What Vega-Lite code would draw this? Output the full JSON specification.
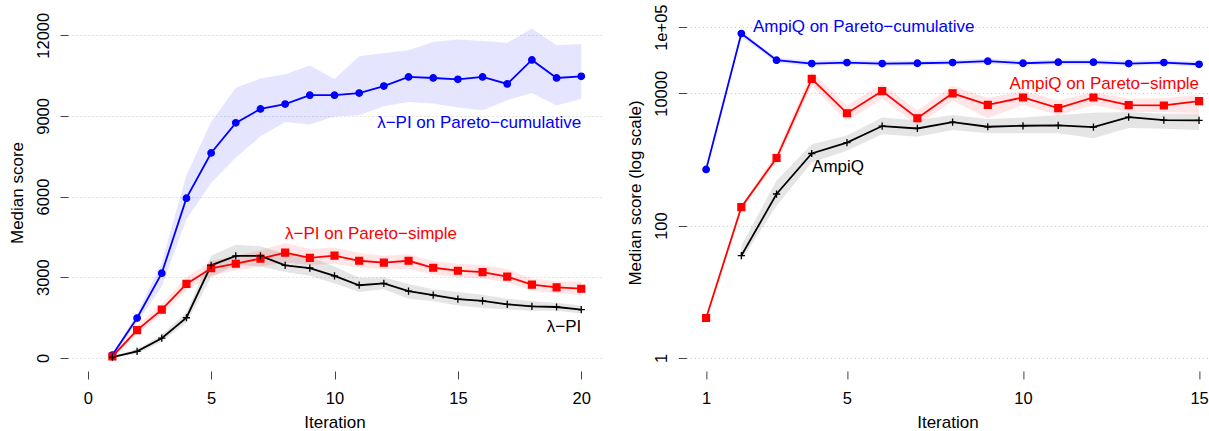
{
  "$schema": "https://vega.github.io/schema/vega-lite/v6.json",
  "padding": {"left": 8, "top": 4, "right": 0, "bottom": 0},
  "autosize": {"type": "pad"},
  "config": {
    "view": {"stroke": null},
    "font": "Liberation Sans",
    "axis": {
      "labelFontSize": 16.5, "titleFontSize": 17, "titleFontWeight": "normal",
      "labelColor": "#000", "titleColor": "#000", "tickColor": "#444", "tickSize": 8,
      "domain": false, "labelFlush": false, "labelOverlap": false,
      "gridDash": [1, 3], "gridColor": "#c8c8c8"
    }
  },
  "datasets": {
    "left": [
      {"x":1,"s":"cum","y":100,"lo":50,"hi":150},
      {"x":2,"s":"cum","y":1480,"lo":1300,"hi":1650},
      {"x":3,"s":"cum","y":3150,"lo":2650,"hi":3550},
      {"x":4,"s":"cum","y":5940,"lo":5150,"hi":6800},
      {"x":5,"s":"cum","y":7620,"lo":6500,"hi":8770},
      {"x":6,"s":"cum","y":8740,"lo":7450,"hi":10050},
      {"x":7,"s":"cum","y":9260,"lo":8240,"hi":10390},
      {"x":8,"s":"cum","y":9440,"lo":8770,"hi":10550},
      {"x":9,"s":"cum","y":9770,"lo":8680,"hi":10870},
      {"x":10,"s":"cum","y":9770,"lo":8980,"hi":10370},
      {"x":11,"s":"cum","y":9850,"lo":9020,"hi":11220},
      {"x":12,"s":"cum","y":10110,"lo":9360,"hi":11340},
      {"x":13,"s":"cum","y":10450,"lo":9520,"hi":11440},
      {"x":14,"s":"cum","y":10410,"lo":9460,"hi":11750},
      {"x":15,"s":"cum","y":10360,"lo":9310,"hi":11840},
      {"x":16,"s":"cum","y":10450,"lo":9210,"hi":11790},
      {"x":17,"s":"cum","y":10190,"lo":9580,"hi":11720},
      {"x":18,"s":"cum","y":11080,"lo":9850,"hi":12250},
      {"x":19,"s":"cum","y":10410,"lo":9390,"hi":11630},
      {"x":20,"s":"cum","y":10470,"lo":9640,"hi":11670},
      {"x":1,"s":"simple","y":50,"lo":0,"hi":100},
      {"x":2,"s":"simple","y":1030,"lo":880,"hi":1200},
      {"x":3,"s":"simple","y":1790,"lo":1600,"hi":2000},
      {"x":4,"s":"simple","y":2750,"lo":2500,"hi":3000},
      {"x":5,"s":"simple","y":3330,"lo":3050,"hi":3600},
      {"x":6,"s":"simple","y":3500,"lo":3250,"hi":3800},
      {"x":7,"s":"simple","y":3690,"lo":3400,"hi":4000},
      {"x":8,"s":"simple","y":3910,"lo":3550,"hi":4270},
      {"x":9,"s":"simple","y":3720,"lo":3450,"hi":4050},
      {"x":10,"s":"simple","y":3800,"lo":3500,"hi":4100},
      {"x":11,"s":"simple","y":3610,"lo":3350,"hi":3900},
      {"x":12,"s":"simple","y":3540,"lo":3300,"hi":3800},
      {"x":13,"s":"simple","y":3610,"lo":3300,"hi":3850},
      {"x":14,"s":"simple","y":3350,"lo":3100,"hi":3600},
      {"x":15,"s":"simple","y":3240,"lo":3000,"hi":3500},
      {"x":16,"s":"simple","y":3190,"lo":2950,"hi":3450},
      {"x":17,"s":"simple","y":3020,"lo":2800,"hi":3300},
      {"x":18,"s":"simple","y":2720,"lo":2500,"hi":2950},
      {"x":19,"s":"simple","y":2620,"lo":2400,"hi":2850},
      {"x":20,"s":"simple","y":2570,"lo":2330,"hi":2820},
      {"x":1,"s":"base","y":25,"lo":0,"hi":60},
      {"x":2,"s":"base","y":240,"lo":150,"hi":330},
      {"x":3,"s":"base","y":730,"lo":600,"hi":850},
      {"x":4,"s":"base","y":1490,"lo":1300,"hi":1700},
      {"x":5,"s":"base","y":3440,"lo":3000,"hi":3800},
      {"x":6,"s":"base","y":3790,"lo":3450,"hi":4210},
      {"x":7,"s":"base","y":3790,"lo":3400,"hi":4150},
      {"x":8,"s":"base","y":3440,"lo":3190,"hi":3870},
      {"x":9,"s":"base","y":3340,"lo":3050,"hi":3750},
      {"x":10,"s":"base","y":3050,"lo":2760,"hi":3400},
      {"x":11,"s":"base","y":2700,"lo":2450,"hi":2980},
      {"x":12,"s":"base","y":2770,"lo":2550,"hi":3000},
      {"x":13,"s":"base","y":2480,"lo":2200,"hi":2750},
      {"x":14,"s":"base","y":2330,"lo":2100,"hi":2550},
      {"x":15,"s":"base","y":2180,"lo":1950,"hi":2450},
      {"x":16,"s":"base","y":2120,"lo":1850,"hi":2350},
      {"x":17,"s":"base","y":1990,"lo":1800,"hi":2200},
      {"x":18,"s":"base","y":1910,"lo":1750,"hi":2100},
      {"x":19,"s":"base","y":1890,"lo":1750,"hi":2050},
      {"x":20,"s":"base","y":1790,"lo":1650,"hi":1950}
    ],
    "right": [
      {"x":1,"s":"cum","y":706,"lo":690,"hi":720},
      {"x":2,"s":"cum","y":80000,"lo":72000,"hi":88000},
      {"x":3,"s":"cum","y":31700,"lo":29000,"hi":34500},
      {"x":4,"s":"cum","y":28200,"lo":26000,"hi":31000},
      {"x":5,"s":"cum","y":29200,"lo":27000,"hi":32000},
      {"x":6,"s":"cum","y":28200,"lo":26000,"hi":31000},
      {"x":7,"s":"cum","y":28500,"lo":26300,"hi":31200},
      {"x":8,"s":"cum","y":29200,"lo":27000,"hi":32000},
      {"x":9,"s":"cum","y":30600,"lo":28000,"hi":33500},
      {"x":10,"s":"cum","y":28500,"lo":26300,"hi":31200},
      {"x":11,"s":"cum","y":29600,"lo":27300,"hi":32500},
      {"x":12,"s":"cum","y":29600,"lo":27300,"hi":32500},
      {"x":13,"s":"cum","y":28200,"lo":26000,"hi":31000},
      {"x":14,"s":"cum","y":29200,"lo":27000,"hi":32000},
      {"x":15,"s":"cum","y":27500,"lo":25300,"hi":30200},
      {"x":1,"s":"simple","y":4.0,"lo":3.8,"hi":4.2},
      {"x":2,"s":"simple","y":190,"lo":175,"hi":205},
      {"x":3,"s":"simple","y":1050,"lo":900,"hi":1250},
      {"x":4,"s":"simple","y":16500,"lo":13000,"hi":21000},
      {"x":5,"s":"simple","y":5000,"lo":3800,"hi":6500},
      {"x":6,"s":"simple","y":10800,"lo":8300,"hi":14000},
      {"x":7,"s":"simple","y":4200,"lo":3300,"hi":5500},
      {"x":8,"s":"simple","y":10000,"lo":7700,"hi":13000},
      {"x":9,"s":"simple","y":6700,"lo":4200,"hi":8500},
      {"x":10,"s":"simple","y":8650,"lo":6700,"hi":11000},
      {"x":11,"s":"simple","y":5970,"lo":4700,"hi":7800},
      {"x":12,"s":"simple","y":8650,"lo":6600,"hi":10500},
      {"x":13,"s":"simple","y":6620,"lo":5200,"hi":8300},
      {"x":14,"s":"simple","y":6550,"lo":5200,"hi":8400},
      {"x":15,"s":"simple","y":7620,"lo":5000,"hi":9500},
      {"x":2,"s":"base","y":35,"lo":29.5,"hi":50},
      {"x":3,"s":"base","y":300,"lo":200,"hi":480},
      {"x":4,"s":"base","y":1230,"lo":900,"hi":1700},
      {"x":5,"s":"base","y":1800,"lo":1350,"hi":2300},
      {"x":6,"s":"base","y":3200,"lo":2400,"hi":4300},
      {"x":7,"s":"base","y":2940,"lo":2200,"hi":3900},
      {"x":8,"s":"base","y":3670,"lo":2800,"hi":4700},
      {"x":9,"s":"base","y":3120,"lo":2500,"hi":4100},
      {"x":10,"s":"base","y":3230,"lo":2500,"hi":4300},
      {"x":11,"s":"base","y":3270,"lo":2500,"hi":4700},
      {"x":12,"s":"base","y":3080,"lo":2100,"hi":5100},
      {"x":13,"s":"base","y":4370,"lo":3000,"hi":5200},
      {"x":14,"s":"base","y":3940,"lo":2900,"hi":4900},
      {"x":15,"s":"base","y":3890,"lo":2800,"hi":4900}
    ]
  },
  "spacing": 85.4,
  "bounds": "flush",
  "resolve": {"scale": {"x": "independent", "y": "independent", "color": "shared", "stroke": "shared", "shape": "shared", "size": "shared"}},
  "hconcat": [
    {
      "width": 533,
      "height": 357,
      "data": {"name": "left"},
      "encoding": {
        "x": {"field": "x", "type": "quantitative",
          "scale": {"domain": [-0.8, 20.8], "nice": false, "zero": false},
          "axis": {"values": [0, 5, 10, 15, 20], "grid": false, "labelPadding": 11, "title": "Iteration", "titlePadding": 8}},
        "y": {"field": "y", "type": "quantitative",
          "scale": {"domain": [-491, 12790], "nice": false, "zero": false},
          "axis": {"values": [0, 3000, 6000, 9000, 12000], "format": "d", "grid": true,
            "labelAngle": 270, "labelAlign": "center", "labelBaseline": "alphabetic", "labelPadding": 12,
            "title": "Median score", "titleX": -45.5, "titleY": 178.5, "titleAngle": 270, "titleAlign": "center", "titleBaseline": "alphabetic"}}
      },
      "layer": [
        {"mark": {"type": "area", "opacity": 0.1},
          "encoding": {"y": {"field": "lo", "type": "quantitative"}, "y2": {"field": "hi"},
            "color": {"field": "s", "type": "nominal", "scale": {"domain": ["cum", "simple", "base"], "range": ["#0000ff", "#ff0000", "#000000"]}, "legend": null}}},
        {"mark": {"type": "line", "strokeWidth": 1.8},
          "encoding": {"color": {"field": "s", "type": "nominal", "legend": null}}},
        {"mark": {"type": "point", "filled": true, "opacity": 1, "strokeWidth": 1.3},
          "encoding": {
            "color": {"field": "s", "type": "nominal", "legend": null},
            "stroke": {"field": "s", "type": "nominal", "scale": {"domain": ["cum", "simple", "base"], "range": ["#0000ff", "#ff0000", "#000000"]}, "legend": null},
            "shape": {"field": "s", "type": "nominal", "scale": {"domain": ["cum", "simple", "base"], "range": ["circle", "square", "M-1,0H1M0,-1V1"]}, "legend": null},
            "size": {"field": "s", "type": "nominal", "scale": {"domain": ["cum", "simple", "base"], "range": [42, 52, 64]}, "legend": null}}},
        {"data": {"values": [{"x": 20, "y": 8728, "t": "λ−PI on Pareto−cumulative", "s": "cum"}, {"x": 20, "y": 1138, "t": "λ−PI", "s": "base"}]},
          "mark": {"type": "text", "align": "right", "baseline": "middle", "fontSize": 17},
          "encoding": {"text": {"field": "t"}, "color": {"field": "s", "type": "nominal", "legend": null}}},
        {"data": {"values": [{"x": 11.48, "y": 4613, "t": "λ−PI on Pareto−simple", "s": "simple"}]},
          "mark": {"type": "text", "align": "center", "baseline": "middle", "fontSize": 17},
          "encoding": {"text": {"field": "t"}, "color": {"field": "s", "type": "nominal", "legend": null}}},
        {"data": {"values": [{"a": 1}]},
          "mark": {"type": "rule", "color": "#444", "strokeWidth": 1},
          "encoding": {"x": {"datum": -0.8, "type": "quantitative"}, "y": {"datum": 0, "type": "quantitative"}, "y2": {"datum": 12000}}},
        {"data": {"values": [{"a": 1}]},
          "mark": {"type": "rule", "color": "#444", "strokeWidth": 1},
          "encoding": {"x": {"datum": 0, "type": "quantitative"}, "x2": {"datum": 20}, "y": {"datum": -491, "type": "quantitative"}}}
      ]
    },
    {
      "width": 522,
      "height": 357,
      "data": {"name": "right"},
      "encoding": {
        "x": {"field": "x", "type": "quantitative",
          "scale": {"domain": [0.44, 15.265], "nice": false, "zero": false},
          "axis": {"values": [1, 5, 10, 15], "grid": false, "labelPadding": 11, "title": "Iteration", "titlePadding": 8}},
        "y": {"field": "y", "type": "quantitative",
          "scale": {"type": "log", "domain": [0.632, 158300], "nice": false},
          "axis": {"values": [1, 100, 10000, 100000], "grid": true,
            "labelExpr": "datum.value >= 100000 ? '1e+05' : format(datum.value, 'd')",
            "labelAngle": 270, "labelAlign": "center", "labelBaseline": "alphabetic", "labelPadding": 12,
            "title": "Median score (log scale)", "titleX": -46, "titleY": 178.5, "titleAngle": 270, "titleAlign": "center", "titleBaseline": "alphabetic"}}
      },
      "layer": [
        {"mark": {"type": "area", "opacity": 0.1},
          "encoding": {"y": {"field": "lo", "type": "quantitative"}, "y2": {"field": "hi"},
            "color": {"field": "s", "type": "nominal", "scale": {"domain": ["cum", "simple", "base"], "range": ["#0000ff", "#ff0000", "#000000"]}, "legend": null}}},
        {"mark": {"type": "line", "strokeWidth": 1.8},
          "encoding": {"color": {"field": "s", "type": "nominal", "legend": null}}},
        {"mark": {"type": "point", "filled": true, "opacity": 1, "strokeWidth": 1.3},
          "encoding": {
            "color": {"field": "s", "type": "nominal", "legend": null},
            "stroke": {"field": "s", "type": "nominal", "scale": {"domain": ["cum", "simple", "base"], "range": ["#0000ff", "#ff0000", "#000000"]}, "legend": null},
            "shape": {"field": "s", "type": "nominal", "scale": {"domain": ["cum", "simple", "base"], "range": ["circle", "square", "M-1,0H1M0,-1V1"]}, "legend": null},
            "size": {"field": "s", "type": "nominal", "scale": {"domain": ["cum", "simple", "base"], "range": [42, 52, 64]}, "legend": null}}},
        {"data": {"values": [{"x": 2.33, "y": 100000, "t": "AmpiQ on Pareto−cumulative", "s": "cum"}, {"x": 4.01, "y": 764, "t": "AmpiQ", "s": "base"}]},
          "mark": {"type": "text", "align": "left", "baseline": "middle", "fontSize": 17},
          "encoding": {"text": {"field": "t"}, "color": {"field": "s", "type": "nominal", "legend": null}}},
        {"data": {"values": [{"x": 15, "y": 13600, "t": "AmpiQ on Pareto−simple", "s": "simple"}]},
          "mark": {"type": "text", "align": "right", "baseline": "middle", "fontSize": 17},
          "encoding": {"text": {"field": "t"}, "color": {"field": "s", "type": "nominal", "legend": null}}},
        {"data": {"values": [{"a": 1}]},
          "mark": {"type": "rule", "color": "#444", "strokeWidth": 1},
          "encoding": {"x": {"datum": 0.44, "type": "quantitative"}, "y": {"datum": 1, "type": "quantitative"}, "y2": {"datum": 100000}}},
        {"data": {"values": [{"a": 1}]},
          "mark": {"type": "rule", "color": "#444", "strokeWidth": 1},
          "encoding": {"x": {"datum": 1, "type": "quantitative"}, "x2": {"datum": 15}, "y": {"datum": 0.632, "type": "quantitative"}}}
      ]
    }
  ]
}
